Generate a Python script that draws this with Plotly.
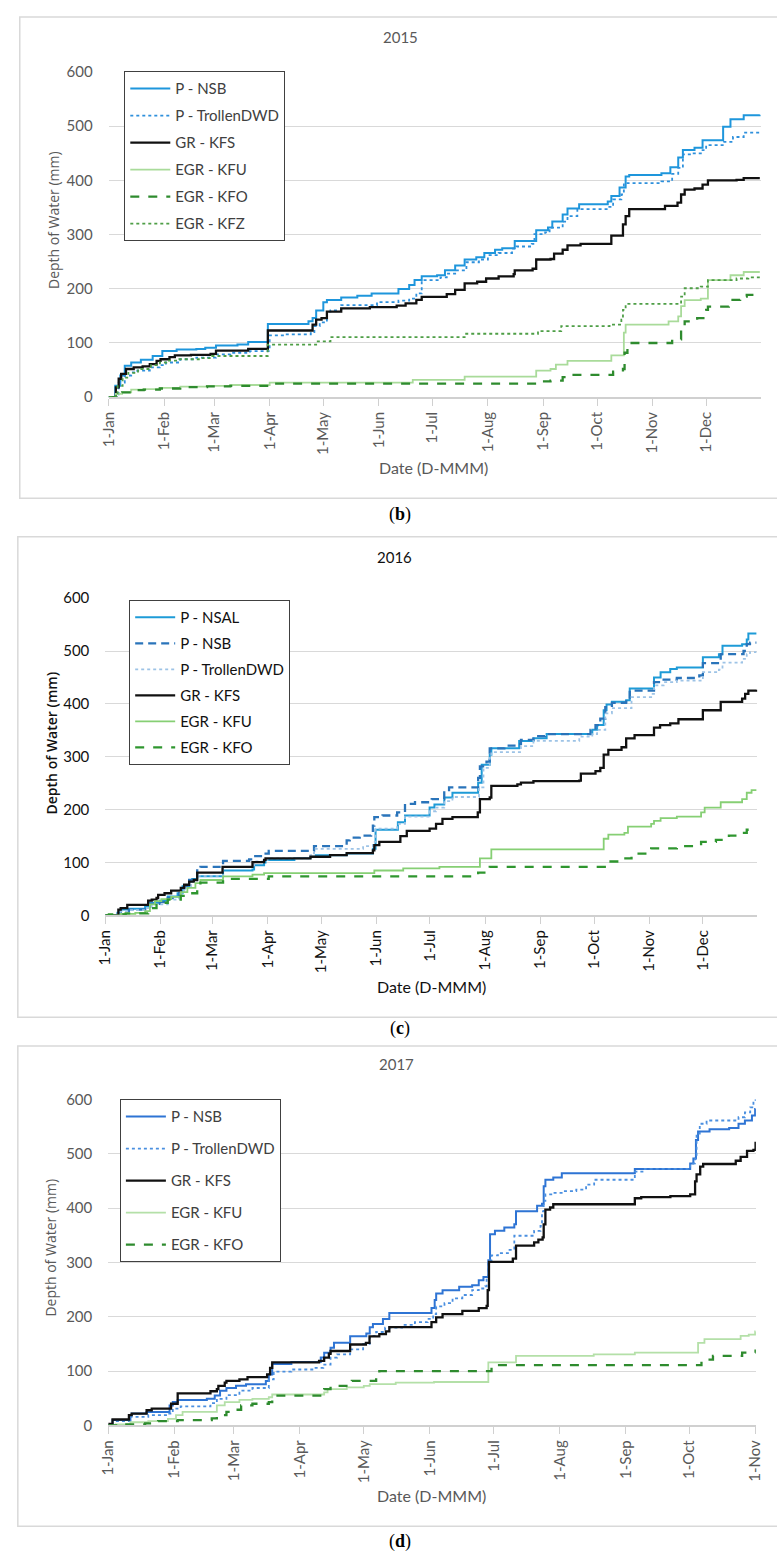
import pandas as pd
import plotly.graph_objects as go

W, H = 777, 1562
def px(x): return x / W
def py(y): return 1 - y / H

# ---------------- 2015 (panel b) : day-of-year offsets and cumulative depth (mm)
d15_nsb = [0, 3.7, 6.5, 9, 12.6, 18, 24.6, 30, 38, 49, 54, 60, 72, 78, 89, 111.7, 114, 116, 120, 122, 130, 139, 147, 162, 168, 171, 175, 183.6, 188, 193.7, 199, 205.5, 210, 216, 220, 227, 239, 245.6, 248, 253.8, 256.5, 263, 279, 281, 285.6, 289, 291, 309, 314, 318.4, 321, 327.5, 332, 343.5, 347.6, 355, 364]
v15_nsb = [0, 21, 40, 58, 64, 69, 76, 85, 88, 89, 91, 95.5, 97, 101.6, 135, 140, 146, 160, 175, 179.5, 184, 187, 191.5, 199.5, 207, 216, 223, 225, 234, 243, 254, 258, 266, 272, 275, 288, 308, 313, 324, 337, 348, 356, 361, 371, 387, 407, 410, 413, 424, 442, 456, 460, 474, 499, 513, 520, 521]

d15_trol = [0, 5.6, 9, 12.6, 16, 23, 28.6, 32, 40, 49, 60, 68, 79, 90, 99, 113, 115, 118, 122, 124, 130, 150, 162, 168, 172, 175, 185.5, 189, 194.6, 200, 207, 212, 218, 225.5, 228, 236.5, 238, 244, 246.5, 253.8, 256.5, 262, 279, 282, 286.6, 288, 309, 315, 318.4, 321, 325.7, 332, 334, 344, 349, 355, 364]
v15_trol = [0, 27, 40, 45.6, 49, 55, 59, 64, 70, 73, 79, 82, 85, 114, 116, 118, 131, 138, 158, 160, 170, 175.5, 178, 182, 191.5, 216, 221, 228, 234, 249, 254, 262, 266, 274, 278, 283, 301, 304, 313, 324, 334, 347, 351, 365, 374, 395, 398, 412, 423, 448, 450, 456, 465, 471, 480, 488, 491]

d15_kfs = [0, 4, 5.6, 7, 9.7, 14, 19, 23, 26.8, 29, 34, 37, 46, 57, 60, 78, 89, 114, 116, 119, 122, 130, 146, 161, 166, 172, 175, 189, 193.7, 199, 206, 211, 218, 226.4, 227, 237, 239, 247, 249, 253.8, 256.5, 263.8, 281, 287.5, 289, 291, 311, 318, 320, 322, 327.5, 332, 335, 351, 355, 364]
v15_kfs = [0, 18, 34, 43, 52, 55, 57, 61, 67, 70, 74, 77, 78, 80, 86, 89, 123, 134, 143, 146, 158, 164, 166, 169, 173, 179.5, 185, 190, 198, 210, 213, 219, 223, 227, 234, 237, 254, 255, 265, 272, 280, 283, 298, 319, 334, 347, 353, 359, 374, 383, 385, 392, 400, 401, 404, 404]

d15_kfu = [0, 4, 7.5, 12.6, 19.6, 28.6, 40, 55, 68, 90, 170, 199, 239, 247, 250, 256.5, 281, 288, 289, 313, 318.4, 320, 322, 331, 335, 347.6, 355, 364]
v15_kfu = [0, 6, 9, 14, 15, 17, 19.5, 21, 22.5, 27, 32, 38, 49, 52, 60, 67, 77, 119, 134, 140, 149, 168, 179, 182, 216, 225, 231, 231]

d15_kfo = [0, 4, 7.5, 12.6, 19.6, 28.6, 40, 55, 68, 90, 240, 247, 253.8, 256.5, 282, 287.5, 288.4, 290, 315, 320, 322, 329, 334, 335, 346.7, 353, 356.7, 364]
v15_kfo = [0, 6, 9, 13, 14, 16, 18.5, 20, 21, 25, 29, 30.6, 37, 41, 47, 52, 82, 100, 106.5, 125, 140, 146, 161, 167, 179.5, 185.6, 188.6, 188.6]

d15_kfz = [0, 5, 7.8, 11, 16.4, 23.7, 28.6, 32.2, 39.5, 50.4, 57.7, 88.9, 116, 124, 199, 240, 253, 280, 286.6, 287.5, 289, 320, 322, 331, 335, 351, 357.6, 364]
v15_kfz = [0, 21, 36, 45, 52, 59, 64, 67.6, 70, 72, 76, 97, 103, 111, 117, 122, 131, 134, 143, 161, 172, 185.6, 201, 204, 216, 219, 221, 221]

# ---------------- 2016 (panel c)
d16_nsal = [0, 6.8, 8.6, 13.2, 22.3, 25, 30.5, 35, 40.5, 43.3, 47, 48.7, 51.5, 66, 82.5, 83.4, 89, 89.8, 106, 115, 118, 135.3, 150, 151.5, 164, 168, 181.8, 184.5, 190, 194.6, 209, 211, 215.5, 216.4, 232, 240, 247.4, 273, 275.7, 279.4, 281, 284, 292, 294, 307.6, 311.3, 316.7, 320.4, 335, 344, 346, 357, 359.6, 360.5, 365]
v16_nsal = [0, 5, 11, 12.5, 17, 24, 28, 36, 42, 55, 64, 69, 74, 85, 87, 95, 100, 105, 108, 111, 114, 117, 126, 162, 176, 189, 204, 210, 223, 232, 251, 285, 304, 316, 330, 335, 343, 351, 360, 388, 399, 404, 407, 429, 450, 460, 466, 469, 488, 494, 510, 513, 522, 533, 533]

d16_nsb = [0, 6.8, 8.6, 13.2, 22.3, 25, 30.5, 35, 41.4, 44.2, 47, 51.5, 53.3, 66, 80.6, 82.5, 89, 91.6, 117, 135.3, 137, 142.6, 149, 150, 150.8, 155.4, 163.6, 168, 173.6, 183, 190, 192.7, 209, 210, 213.7, 215.5, 223.7, 231, 233, 240, 246.5, 272, 274.8, 277.5, 280.3, 284, 292, 294, 307.6, 311.3, 320.4, 333, 335, 345, 357.8, 359.6, 361.4, 365]
v16_nsb = [0, 2, 8, 11, 14, 22, 25, 33, 42, 55, 67, 85, 92, 103, 106, 112, 117, 122, 131, 142, 147, 151, 155, 170, 186, 189, 195, 211, 214, 220, 235, 242, 260, 282, 291, 316, 321, 324, 332, 339, 343, 351, 360, 372, 394, 402, 407, 425, 441, 446, 449, 454, 477, 494, 500, 513, 516, 516]

d16_trol = [0, 6.8, 8.6, 13.2, 22.3, 26, 35, 41.4, 44.2, 48, 51.5, 66, 83.4, 89, 91, 115, 117, 144.5, 150, 151.5, 163.6, 168, 181.8, 185.4, 190, 194.6, 209.5, 212, 215.5, 216.4, 233, 240, 265.7, 273, 275.7, 280.3, 284, 295, 306, 307.6, 313, 320.4, 335, 344, 346, 357, 359.6, 361.4, 365]
v16_trol = [0, 3, 8, 10, 14, 21, 30, 41, 52, 64, 75, 92, 102, 105, 108, 114, 126, 131, 139, 164, 173, 187, 197, 204, 216, 224, 242, 279, 298, 309, 320, 330, 338, 343, 351, 382, 392, 413, 419, 435, 441, 444, 460, 465, 478, 485, 494, 498, 498]

d16_kfs = [0, 7.3, 8.6, 12.3, 24, 26, 28.7, 29.6, 33.2, 36.9, 42.3, 44.2, 47, 49.6, 51.5, 65.7, 82.5, 89, 89.8, 115, 126, 135.3, 150, 150.8, 153.6, 165.4, 169, 181.8, 185.4, 189, 194.6, 208.8, 210, 215.5, 216.4, 231, 233, 240, 265.7, 266.6, 274.8, 277.5, 279.4, 282, 289.4, 292, 296.7, 307.6, 311, 316.7, 321.3, 335, 345, 357, 358.7, 360.5, 365]
v16_kfs = [0, 11, 14, 20, 28, 30, 33, 39, 42, 47, 52, 58, 64, 67, 81, 92, 101, 105, 108, 111, 114, 118, 123, 133, 139, 150, 160, 164, 173, 182.5, 186, 195, 220, 223, 245, 248, 251, 254, 255, 268, 273, 279, 304, 313, 318, 335, 341, 355, 360, 363, 371, 388, 404, 410, 419, 425, 427]

d16_kfu = [0, 8.6, 16.8, 22.3, 25, 27.8, 31.4, 36.9, 42.3, 46, 50.5, 53.3, 66, 82.5, 89, 150.8, 167, 187.3, 210, 216.4, 279.4, 282, 291, 293, 306, 307.6, 311.3, 320.4, 334, 336, 345, 357, 359.6, 362.3, 365]
v16_kfu = [0, 3, 5, 8, 21, 27, 31, 35, 44, 52, 61, 67, 74, 77, 80, 85, 89, 92, 108, 125, 145, 153, 156, 168, 173, 179, 184, 187, 195, 204, 214, 220, 232, 237, 237]

d16_kfo = [0, 2, 11.4, 24, 28.7, 35, 42.3, 46, 51.5, 53.3, 66, 91.6, 209, 215.5, 280, 289, 295, 306, 320.4, 334, 342.3, 349.6, 357, 359.6, 365]
v16_kfo = [0, 2, 4, 14, 24, 30, 37, 42, 48, 62, 69, 74, 81, 92, 102, 108, 117, 127, 131, 139, 143, 151, 156, 162, 162]

# ---------------- 2017 (panel d)
d17_nsb = [0, 2, 10.4, 11, 18, 28.8, 30.3, 32.6, 46.3, 50, 52.5, 55.5, 60, 64.7, 74, 75.4, 77, 86, 99.8, 101.4, 104.4, 106, 113.6, 121.2, 122.8, 124.3, 129, 132, 151.8, 153.3, 154, 157, 164.8, 170.9, 174, 176.2, 178.5, 179.3, 181.6, 186, 190.7, 191.5, 201.4, 203.7, 204.5, 205.3, 209, 213, 247.3, 273.3, 274.8, 276, 277, 282.4, 291.6, 296, 299, 302.3, 303.8, 304]
v17_nsb = [0, 10, 19, 22, 25, 37, 43, 47, 49, 55, 64, 69, 73, 76, 82, 94, 113, 117, 125, 134, 143, 152, 164, 169, 180.5, 186.6, 196, 207, 216, 231, 243, 249, 255, 258, 267, 273, 304, 352, 358, 364, 370, 394, 404, 408, 440, 452, 456, 464, 472, 482, 491, 525, 541, 545, 547, 555, 561, 570, 582, 582]

d17_trol = [0, 3.5, 10.4, 18.8, 28, 30.3, 34, 48, 51, 55.5, 61.6, 67.7, 75.4, 77.7, 86, 96.8, 101, 104.4, 107.5, 113.6, 119.7, 122.8, 125.8, 130, 138, 144, 150, 152.6, 154, 157.9, 161.7, 166.3, 170.9, 174, 177, 177.7, 178.5, 180, 183, 187.7, 190.7, 200, 203, 203.7, 204.5, 205.3, 209, 213.7, 219.8, 224.4, 228.2, 247.3, 252, 273.3, 275.6, 276.3, 277.8, 281, 296, 299, 301.5, 303, 304]
v17_trol = [0, 8, 16, 19, 22, 31, 35, 41, 49, 56, 64, 69, 85, 99, 103, 106, 112, 125, 131, 140, 150, 165, 172, 180, 185, 190, 196, 205, 219, 225, 234, 240, 249, 252, 256, 273, 304, 313, 317, 323, 349, 358, 367, 394, 413, 425, 428, 431, 434, 443, 452, 467, 472, 482, 491, 537, 555, 561, 567, 576, 585, 594, 600]

d17_kfs = [0, 0.5, 2, 9.7, 11, 18, 20.4, 29.5, 32.6, 48, 51, 51.7, 54.7, 55.5, 61.6, 65.4, 74.6, 76, 77, 99, 101.4, 103.6, 104.4, 113.6, 121, 122.7, 127.3, 130.4, 132, 151.8, 154, 157, 166.3, 174, 177.7, 178.2, 178.8, 190, 191.5, 200, 202, 204, 204.5, 205.3, 207.5, 209, 247.3, 250.3, 264, 273.3, 275.6, 276.3, 278, 279.4, 294.7, 297, 300, 303, 304]
v17_kfs = [0, 3, 11, 19, 22, 28, 31, 40, 59, 63, 67, 73, 79, 82, 85, 89, 94, 106, 116, 119, 125, 132, 137, 149, 152, 164, 168, 173, 181, 190, 199, 205, 211, 216, 220, 249, 301, 307, 331, 337, 342, 346, 370, 397, 401, 407, 418, 420, 422, 425, 449, 462, 476, 481, 487, 494, 505, 507, 522]

d17_kfu = [0, 3.5, 10.4, 18.8, 28, 31.8, 34.9, 51, 54.7, 61.6, 67.7, 75.4, 77, 101.4, 103, 112, 120, 122.8, 135, 153, 178.5, 191.5, 228, 247.3, 277, 280, 297, 300.8, 303.8, 304]
v17_kfu = [0, 2, 6, 8, 12, 19, 25, 37, 43, 47, 49, 52, 57, 61, 67, 70, 73, 76, 79, 80, 116, 128, 131, 134, 152, 159, 165, 167, 173, 173]

d17_kfo = [0, 5, 17.3, 23.4, 32.6, 48.6, 51, 55.5, 58.6, 62.4, 67.7, 75.4, 77, 101.4, 104.4, 114.4, 125.8, 127.3, 180, 183, 278.6, 284, 297.7, 304]
v17_kfo = [0, 2, 4, 8, 10, 13, 19, 25, 29, 37, 40, 43, 55, 67, 73, 82, 94, 100, 107, 111, 121, 128, 134, 140]

Y_TICKS = [0, 100, 200, 300, 400, 500, 600]

def dates(year, days):
    return pd.Timestamp(f"{year}-01-01") + pd.to_timedelta(days, unit="D")

# name, year, days, values, color, dash, width, axis-suffix
series = [
    ("P - NSB", 2015, d15_nsb, v15_nsb, "#1E96DC", "solid", 2.0, ""),
    ("P - TrollenDWD", 2015, d15_trol, v15_trol, "#2E90DC", "dot", 1.8, ""),
    ("GR - KFS", 2015, d15_kfs, v15_kfs, "#111111", "solid", 2.3, ""),
    ("EGR - KFU", 2015, d15_kfu, v15_kfu, "#A9DB9A", "solid", 1.8, ""),
    ("EGR - KFO", 2015, d15_kfo, v15_kfo, "#2E8B2E", "dash", 2.3, ""),
    ("EGR - KFZ", 2015, d15_kfz, v15_kfz, "#4E9E46", "dot", 1.8, ""),
    ("P - NSAL", 2016, d16_nsal, v16_nsal, "#1E9BD7", "solid", 2.0, "2"),
    ("P - NSB", 2016, d16_nsb, v16_nsb, "#2A74BA", "8px,5px", 2.3, "2"),
    ("P - TrollenDWD", 2016, d16_trol, v16_trol, "#9DC3E6", "dot", 1.8, "2"),
    ("GR - KFS", 2016, d16_kfs, v16_kfs, "#111111", "solid", 2.3, "2"),
    ("EGR - KFU", 2016, d16_kfu, v16_kfu, "#86CF74", "solid", 1.8, "2"),
    ("EGR - KFO", 2016, d16_kfo, v16_kfo, "#2F962F", "dash", 2.3, "2"),
    ("P - NSB", 2017, d17_nsb, v17_nsb, "#2E74D4", "solid", 2.0, "3"),
    ("P - TrollenDWD", 2017, d17_trol, v17_trol, "#4A8FE0", "dot", 1.8, "3"),
    ("GR - KFS", 2017, d17_kfs, v17_kfs, "#111111", "solid", 2.3, "3"),
    ("EGR - KFU", 2017, d17_kfu, v17_kfu, "#B4E0A8", "solid", 1.8, "3"),
    ("EGR - KFO", 2017, d17_kfo, v17_kfo, "#2E8B2E", "dash", 2.3, "3"),
]

fig = go.Figure()
for i, (name, yr, dd, vv, col, dash, wid, ax) in enumerate(series):
    fig.add_trace(go.Scatter(
        x=dates(yr, dd), y=vv, name=name, mode="lines", line_shape="hv",
        line=dict(color=col, dash=dash, width=wid),
        xaxis="x" + ax, yaxis="y" + ax, legend="legend" + ax,
        legendgroup=f"g{i}", hoverinfo="skip"))

# panel geometry (pixels)
panels = [
    dict(ax="", year=2015, x0=101, x1=768.5, ytop=62.7, ybot=391.7, end="2015-12-31 12:00", col="#595959"),
    dict(ax="2", year=2016, x0=97.6, x1=765, ytop=595, ybot=916, end="2016-12-31 12:00", col="#111111"),
    dict(ax="3", year=2017, x0=100.6, x1=763.6, ytop=1102, ybot=1432, end="2017-11-01 04:00", col="#595959"),
]
layout = dict(width=W, height=H, margin=dict(l=0, r=0, t=0, b=0), autosize=False,
              paper_bgcolor="white", plot_bgcolor="white", showlegend=True)
for p in panels:
    a = p["ax"]
    layout["xaxis" + a] = dict(
        type="date", domain=[px(p["x0"]), px(p["x1"])],
        range=[f"{p['year']}-01-01", p["end"]], anchor="y" + a,
        tickformat="%-d-%b", dtick="M1", tick0=f"{p['year']}-01-01", tickangle=-90,
        ticks="outside", ticklen=7, tickcolor="#d0d0d0", tickwidth=1,
        showline=True, linecolor="#d0d0d0", linewidth=1.5, showgrid=False, zeroline=False,
        tickfont=dict(family="Lato", size=15, color=p["col"]))
    layout["yaxis" + a] = dict(
        domain=[py(p["ybot"]), py(p["ytop"])], range=[0, 600], anchor="x" + a,
        tickvals=Y_TICKS, showgrid=True, gridcolor="#d9d9d9", gridwidth=1.3,
        zeroline=False, showline=False, ticks="", ticklabelstandoff=15,
        tickfont=dict(family="Lato", size=15, color=p["col"]))

legends = [("legend", 117, 62, "#404040", 4.5), ("legend2", 122, 597, "#111111", 3.5), ("legend3", 112.5, 1102, "#404040", 9.5)]
for key, lx, ly, lc, gap in legends:
    layout[key] = dict(x=px(lx), y=py(ly), xanchor="left", yanchor="top",
                       bordercolor="#404040", borderwidth=1, bgcolor="white",
                       font=dict(family="Lato", size=15, color=lc),
                       tracegroupgap=gap, itemwidth=40)

fig.update_layout(**layout)

def note(text, x, y, size, color, family="Lato", angle=0, weight="normal"):
    return dict(text=text, x=px(x), y=py(y), xref="paper", yref="paper", showarrow=False,
                xanchor="center", yanchor="middle", textangle=angle,
                font=dict(family=family, size=size, color=color, weight=weight))

ann = []
for txt, x, y, c in [("2015", 400, 27, "#595959"), ("2016", 394, 553, "#111111"), ("2017", 396, 1066, "#595959")]:
    ann.append(note(txt, x, y, 15, c))
for x, y, c in [(434, 463, "#595959"), (431, 988, "#111111"), (432, 1503, "#595959")]:
    ann.append(note("Date (D-MMM)", x, y, 16, c))
for x, y, c, wgt in [(44, 212.5, "#595959", "normal"), (42, 742, "#111111", 600), (42, 1252, "#595959", "normal")]:
    ann.append(note("Depth of Water (mm)", x, y, 14, c, family="Open Sans", angle=-90, weight=wgt))
for lab, y in [("b", 510), ("c", 1030), ("d", 1549)]:
    ann.append(note(f"(<b>{lab}</b>)", 399, y, 18, "#000000", family="Liberation Serif"))
fig.update_layout(annotations=ann)

shapes = []
for y0, y1, x0 in [(7, 494, 10), (533, 1019, 8), (1048, 1534, 8)]:
    shapes.append(dict(type="rect", xref="paper", yref="paper", x0=px(x0), x1=px(800),
                       y0=py(y1), y1=py(y0), line=dict(color="#d9d9d9", width=1.5)))
fig.update_layout(shapes=shapes)

fig.write_html("out.html", config={"displayModeBar": False},
               post_script="document.body.style.margin='0';document.body.style.padding='0';document.body.style.overflow='hidden';")
